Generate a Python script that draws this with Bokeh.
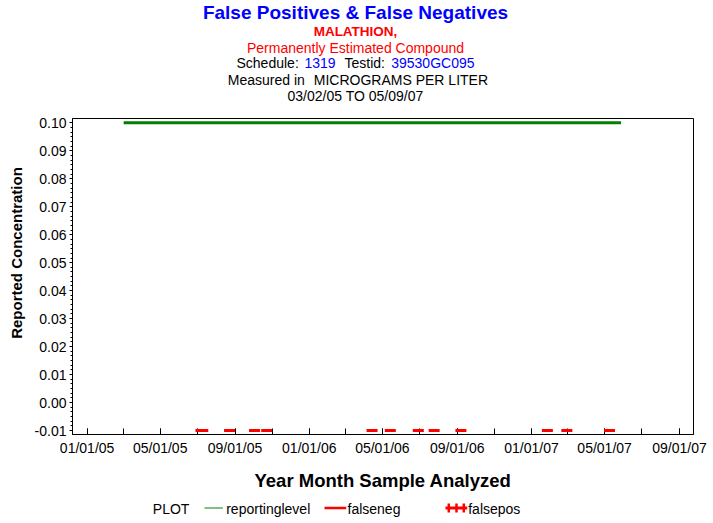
from datetime import datetime
import numpy as np
import pandas as pd
from bokeh.plotting import figure
from bokeh.models import Range1d, FixedTicker, CustomJSTickFormatter
from bokeh.layouts import column, row
from bokeh.embed import file_html
from bokeh.resources import INLINE
from bokeh.core.properties import value

# ---------------- data ----------------
report_dates = ["2005-03-02", "2007-05-28"]
report_level = [0.10, 0.10]

falseneg_dates = ["2005-07-07", "2005-07-10", "2005-08-23", "2005-10-03", "2005-10-23",
                  "2006-04-14", "2006-05-14", "2006-06-29", "2006-07-25", "2006-09-07",
                  "2007-01-27", "2007-02-28", "2007-05-09"]
falseneg_values = [-0.01] * 13

falsepos_dates = []
falsepos_values = []

x_tick_dates = ["2005-01-01", "2005-05-01", "2005-09-01", "2006-01-01", "2006-05-01",
                "2006-09-01", "2007-01-01", "2007-05-01", "2007-09-01"]
x_tick_labels = ["01/01/05", "05/01/05", "09/01/05", "01/01/06", "05/01/06",
                 "09/01/06", "01/01/07", "05/01/07", "09/01/07"]
x_minor_dates = ["2005-01-01", "2005-03-01", "2005-05-01", "2005-07-01", "2005-09-01",
                 "2005-11-01", "2006-01-01", "2006-03-01", "2006-05-01", "2006-07-01",
                 "2006-09-01", "2006-11-01", "2007-01-01", "2007-03-01", "2007-05-01",
                 "2007-07-01", "2007-09-01"]
y_ticks = [-0.01, 0.00, 0.01, 0.02, 0.03, 0.04, 0.05, 0.06, 0.07, 0.08, 0.09, 0.10]
y_tick_labels = ["-0.01", "0.00", "0.01", "0.02", "0.03", "0.04", "0.05", "0.06",
                 "0.07", "0.08", "0.09", "0.10"]

title_text = "False Positives & False Negatives"
compound = "MALATHION,"
status = "Permanently Estimated Compound"
schedule_parts = ["Schedule:", "1319", "Testid:", "39530GC095"]
units_parts = ["Measured in", "MICROGRAMS PER LITER"]
date_span = "03/02/05 TO 05/09/07"
y_label = "Reported Concentration"
x_label = "Year Month Sample Analyzed"
legend_title = "PLOT"
legend_names = ["reportinglevel", "falseneg", "falsepos"]

# ---------------- layout geometry (page pixels) ----------------
PAGE_W, PAGE_H = 713, 523
TOP_H = 112            # title strip
MID_H = 350            # plot row
BOT_H = PAGE_H - TOP_H - MID_H
LEFT_W = 30            # y-label strip
FL, FR, FT, FB = 72, 693, 118, 434   # frame edges

X0 = datetime(2004, 12, 8)
X1 = datetime(2007, 9, 24)
Y0, Y1 = -0.01143, 0.10154

FONT = "Liberation Sans"
BLUE = "#0000FF"
RED = "#FF0000"
GREEN = "#008000"


def ms(d):
    return (pd.Timestamp(d) - pd.Timestamp("1970-01-01")) / pd.Timedelta(milliseconds=1)


def strip(w, h):
    f = figure(width=w, height=h, x_range=Range1d(0, w), y_range=Range1d(0, h),
               output_backend="svg", toolbar_location=None, min_border=0,
               x_axis_location=None, y_axis_location=None)
    f.outline_line_color = None
    f.grid.visible = False
    f.background_fill_color = "white"
    f.border_fill_color = "white"
    return f


def txt(f, top, items, size, color="black", bold=False, align="left", angle=0.0):
    # items: (text, page_x, page_y_center)
    xs = [it[1] for it in items]
    ys = [top + f.height - it[2] for it in items]
    f.text(x=xs, y=ys, text=[it[0] for it in items], text_font=value(FONT),
           text_font_size=f"{size}px", text_color=color,
           text_font_style="bold" if bold else "normal",
           text_align=align, text_baseline="middle", angle=angle)


# ---------------- title strip ----------------
top = strip(PAGE_W, TOP_H)
txt(top, 0, [(title_text, 355, 11.7)], 19, BLUE, bold=True, align="center")
txt(top, 0, [(compound, 355, 30.7)], 13.5, RED, bold=True, align="center")
txt(top, 0, [(status, 355, 47)], 14, RED, align="center")
txt(top, 0, [(schedule_parts[0], 236, 62.7), (schedule_parts[2], 344, 62.7)], 14)
txt(top, 0, [(schedule_parts[1], 304, 62.7), (schedule_parts[3], 390.7, 62.7)], 14, BLUE)
txt(top, 0, [(units_parts[0], 227.3, 79.3), (units_parts[1], 313.3, 79.3)], 14)
txt(top, 0, [(date_span, 355, 95)], 14, align="center")

# ---------------- y-label strip ----------------
left = strip(LEFT_W, MID_H)
txt(left, TOP_H, [(y_label, 16, 261)], 15, bold=True, align="center", angle=np.pi / 2)

# ---------------- main plot ----------------
p = figure(width=PAGE_W - LEFT_W, height=MID_H, x_axis_type="datetime",
           x_range=Range1d(X0, X1), y_range=Range1d(Y0, Y1),
           output_backend="svg", toolbar_location=None,
           min_border_left=FL - LEFT_W, min_border_right=PAGE_W - FR,
           min_border_top=FT - TOP_H, min_border_bottom=TOP_H + MID_H - FB)
p.outline_line_color = "black"
p.outline_line_alpha = 1.0
p.outline_line_width = 1
p.grid.visible = False
p.background_fill_color = "white"
p.border_fill_color = "white"

xa = p.xaxis[0]
xa.ticker = FixedTicker(ticks=[ms(d) for d in x_tick_dates],
                        minor_ticks=[ms(d) for d in x_minor_dates])
xa.formatter = CustomJSTickFormatter(args=dict(labels=x_tick_labels),
                                     code="return labels[index];")
xa.major_tick_in = 6
xa.major_tick_out = 0
xa.minor_tick_in = 6
xa.minor_tick_out = 0
xa.major_label_standoff = 5

y_minor = []
for a, b in zip(y_ticks[:-1], y_ticks[1:]):
    y_minor.extend(list(np.linspace(a, b, 7)[1:-1]))
ya = p.yaxis[0]
ya.ticker = FixedTicker(ticks=y_ticks, minor_ticks=y_minor)
ya.formatter = CustomJSTickFormatter(args=dict(labels=y_tick_labels),
                                     code="return labels[index];")
ya.major_tick_in = 0
ya.major_tick_out = 3
ya.minor_tick_in = 0
ya.minor_tick_out = 2
ya.major_label_standoff = 3

for ax in (xa, ya):
    ax.axis_line_color = "black"
    ax.major_tick_line_color = "black"
    ax.minor_tick_line_color = "black"
    ax.major_label_text_font = FONT
    ax.major_label_text_font_size = "14px"
    ax.major_label_text_color = "black"

p.line(x=pd.to_datetime(report_dates), y=report_level, line_color=GREEN, line_width=3)
p.rect(x=pd.to_datetime(falseneg_dates), y=falseneg_values, width=11, height=3,
       width_units="screen", height_units="screen", fill_color=RED, line_color=None,
       level="overlay")
if falsepos_dates:
    p.scatter(x=pd.to_datetime(falsepos_dates), y=falsepos_values, marker="cross",
              size=8, line_color=RED, line_width=3, level="overlay")

# ---------------- bottom strip: x label + legend ----------------
TB = TOP_H + MID_H
bot = strip(PAGE_W, BOT_H)


def by(py):
    return TB + BOT_H - py


txt(bot, TB, [(x_label, 382.5, 480)], 18.5, bold=True, align="center")
txt(bot, TB, [(legend_title, 152.3, 508.8), (legend_names[0], 225.7, 508.8),
              (legend_names[1], 347, 508.8), (legend_names[2], 467.7, 508.8)], 14)
leg_y = by(507.5)
bot.segment(x0=[204], y0=[leg_y], x1=[222.3], y1=[leg_y], line_color=GREEN, line_width=1)
bot.segment(x0=[324], y0=[leg_y], x1=[345.7], y1=[leg_y], line_color=RED, line_width=2.5)
bot.segment(x0=[445], y0=[leg_y], x1=[466.7], y1=[leg_y], line_color=RED, line_width=3)
cross_x = [448.3, 456, 463.3]
bot.segment(x0=cross_x, y0=[by(503)] * 3, x1=cross_x, y1=[by(512)] * 3,
            line_color=RED, line_width=2.5)

layout = column(top, row(left, p, spacing=0), bot, spacing=0)
open("out.html", "w").write(file_html(layout, INLINE))
